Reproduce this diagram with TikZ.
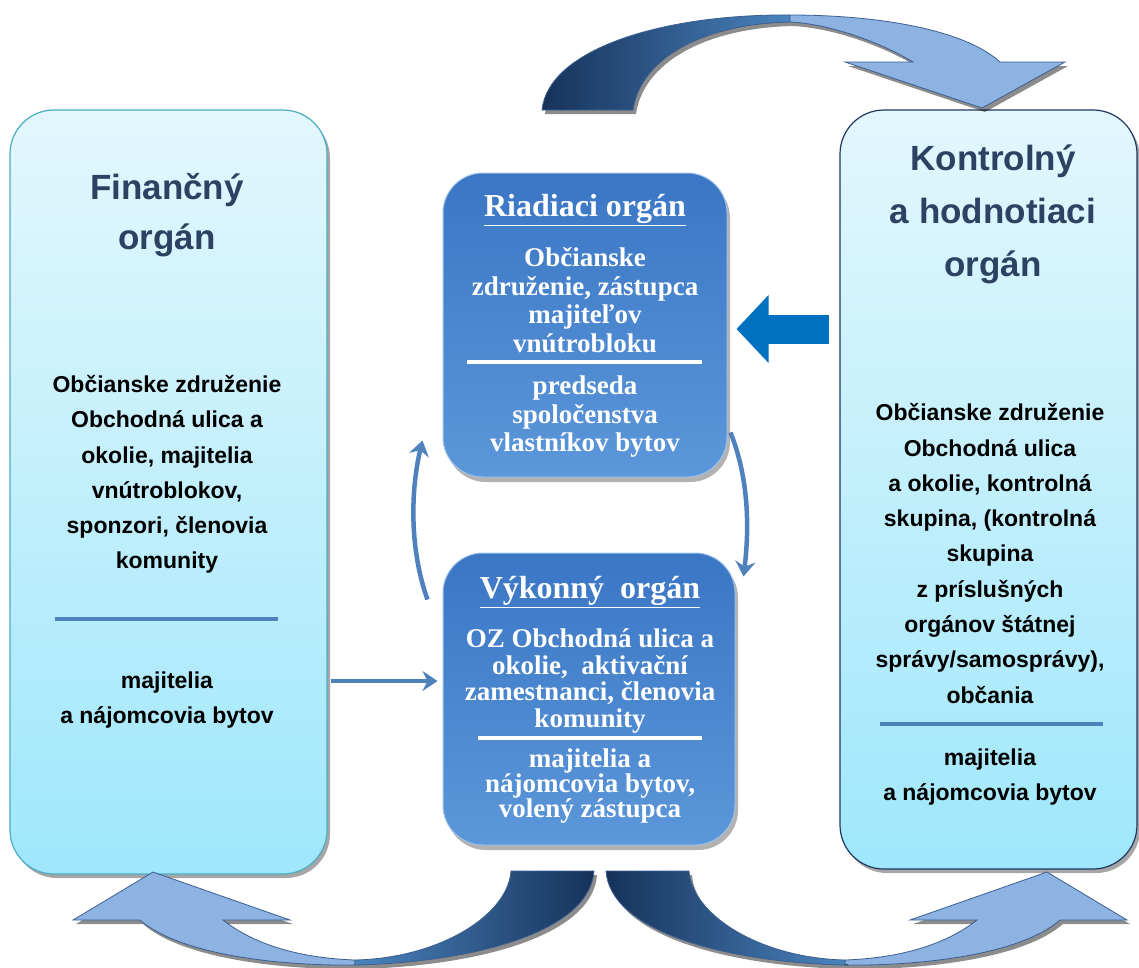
\documentclass[tikz,border=0pt]{standalone}
\usepackage{fontspec}
\setmainfont{Liberation Serif}
\newfontfamily\arialfont{Liberation Sans}
\usetikzlibrary{positioning, calc, shadows, arrows.meta}

\definecolor{sidetop}{HTML}{E3F7FD}
\definecolor{sidebot}{HTML}{9FE7FB}
\definecolor{finline}{HTML}{4BACC6}
\definecolor{kontline}{HTML}{1F3864}
\definecolor{midtop}{HTML}{3A76C4}
\definecolor{midbot}{HTML}{5C97DA}
\definecolor{titlecol}{HTML}{2D4262}
\definecolor{linkblue}{HTML}{4F81BD}
\definecolor{fatblue}{HTML}{0070C0}
\definecolor{navy}{HTML}{16325A}
\definecolor{arcmid}{HTML}{4A84BE}
\definecolor{arclight}{HTML}{8DB3E2}
\definecolor{arcedge}{HTML}{3B5F91}

\begin{document}
\begin{tikzpicture}[x=1pt, y=-1pt,
    sidebox/.style={rectangle, rounded corners=44pt, top color=sidetop, bottom color=sidebot, line width=1.2pt,
        drop shadow={shadow xshift=3pt, shadow yshift=-4pt, opacity=.35, fill=black}},
    midbox/.style={rectangle, rounded corners=40pt, top color=midtop, bottom color=midbot, draw=midbot!60!white, line width=1pt,
        drop shadow={shadow xshift=3pt, shadow yshift=-5pt, opacity=.3, fill=black}},
    sidetitle/.style={font=\arialfont\bfseries\fontsize{35}{53}\selectfont, text=titlecol, align=center},
    sidetext/.style={font=\arialfont\bfseries\fontsize{23}{35.3}\selectfont, align=center},
    midtitle/.style={font=\bfseries\fontsize{32}{34}\selectfont, text=white},
    midtext/.style={font=\bfseries\fontsize{27}{28.5}\selectfont, text=white, align=center},
    divider/.style={line width=4pt, draw=linkblue},
    middivider/.style={line width=4pt, draw=white},
    link/.style={draw=linkblue, line width=4.5pt, -{Stealth[length=15pt, width=20pt, inset=5pt]}},
    fatarrow/.style={draw=fatblue, line width=29pt, -{Triangle[length=32pt, width=66pt]}},
    bigarc/.style={draw=arcedge, line width=.8pt,
        drop shadow={shadow xshift=3pt, shadow yshift=-4pt, opacity=.45, fill=black}}
]

\fill[white] (0,0) rectangle (1139,967);
\useasboundingbox (0,0) rectangle (1139,967);

% Boxes
\node[sidebox, draw=finline, minimum width=317pt, minimum height=764pt] (fin) at (168.5,492) {};
\node[sidebox, draw=kontline, minimum width=297pt, minimum height=759pt] (kontrol) at (988.5,489.5) {};
\node[midbox, minimum width=284pt, minimum height=304pt] (riad) at (585,325) {};
\node[midbox, minimum width=292pt, minimum height=292pt] (vyk) at (589,699) {};

% Left box texts
\node[sidetitle, font=\arialfont\bfseries\fontsize{35}{50}\selectfont] (fintitle) at (167,215) {Finančný\\orgán};
\node[sidetext] (fintext) at (167,474.5) {Občianske združenie\\Obchodná ulica a\\okolie, majitelia\\vnútroblokov,\\sponzori, členovia\\komunity};
\draw[divider] (55,619) -- (278,619);
\node[sidetext] (finlow) at (167,700) {majitelia\\a nájomcovia bytov};

% Right box texts
\node[sidetitle] (konttitle) at (993,214) {Kontrolný\\a hodnotiaci\\orgán};
\node[sidetext] (konttext) at (990,553.5) {Občianske združenie\\Obchodná ulica\\a okolie, kontrolná\\skupina, (kontrolná\\skupina\\z príslušných\\orgánov štátnej\\správy/samosprávy),\\občania};
\draw[divider] (880,724) -- (1103,724);
\node[sidetext] (kontlow) at (990,777) {majitelia\\a nájomcovia bytov};

% Middle box texts
\node[midtitle] (riadtitle) at (585,210) {\underline{Riadiaci orgán}};
\node[midtext] (riadtext) at (585,300) {Občianske\\združenie, zástupca\\majiteľov\\vnútrobloku};
\draw[middivider] (467,362) -- (702,362);
\node[midtext] (riadlow) at (585,417) {predseda\\spoločenstva\\vlastníkov bytov};

\node[midtitle] (vyktitle) at (590,592) {\underline{Výkonný~~orgán}};
\node[midtext, font=\bfseries\fontsize{27}{26.7}\selectfont] (vyktext) at (590,681) {OZ Obchodná ulica a\\okolie,~ aktivační\\zamestnanci, členovia\\komunity};
\draw[middivider] (478,738) -- (702,738);
\node[midtext, font=\bfseries\fontsize{27}{25}\selectfont] (vyklow) at (590,786) {majitelia a\\nájomcovia bytov,\\volený zástupca};

% Connections
\coordinate (hlevel) at (0,681);
\coordinate (fatlevel) at (0,329);
\draw[link, shorten <=3pt, shorten >=5pt] (fin.east |- hlevel) -- (vyk.west |- hlevel);
\draw[link] ([shift={(-15,47)}]vyk.north west) .. controls +(-18,-50) and +(-12,50) .. ([shift={(-20,-37)}]riad.south west);
\draw[link] ([shift={(3,-45)}]riad.south east) .. controls +(18,45) and +(6,-50) .. ([shift={(8,24)}]vyk.north east);
\draw[fatarrow] ($(kontrol.west |- fatlevel)+(-10,0)$) -- ($(riad.east |- fatlevel)+(9,0)$);

% Top curved arrow
\draw[bigarc, left color=navy, right color=arcmid] (542,110) .. controls (548,50) and (660,14) .. (790,15)
    -- (790,22) .. controls (700,24) and (640,60) .. (633,110) -- cycle;
\draw[bigarc, fill=arclight] (790,15) .. controls (880,15) and (965,30) .. (1000,62) -- (1065,62) -- (982,108)
    -- (845,62) -- (913,62) .. controls (880,42) and (830,24) .. (790,22) -- cycle;

% Bottom left curved arrow
\draw[bigarc, fill=arclight] (153,872) -- (290,920) -- (223,920) .. controls (255,945) and (300,958) .. (355,960)
    -- (355,965) .. controls (280,966) and (180,955) .. (140,920) -- (73,920) -- cycle;
\draw[bigarc, left color=arcmid, right color=navy] (355,965) .. controls (480,962) and (590,930) .. (594,871)
    -- (511,871) .. controls (508,915) and (440,958) .. (355,960) -- cycle;

% Bottom right curved arrow
\draw[bigarc, fill=arclight] (1047,872) -- (910,920) -- (977,920) .. controls (945,945) and (900,958) .. (845,960)
    -- (845,965) .. controls (920,966) and (1020,955) .. (1060,920) -- (1127,920) -- cycle;
\draw[bigarc, left color=navy, right color=arcmid] (845,965) .. controls (720,962) and (610,930) .. (606,871)
    -- (689,871) .. controls (692,915) and (760,958) .. (845,960) -- cycle;

\end{tikzpicture}
\end{document}
